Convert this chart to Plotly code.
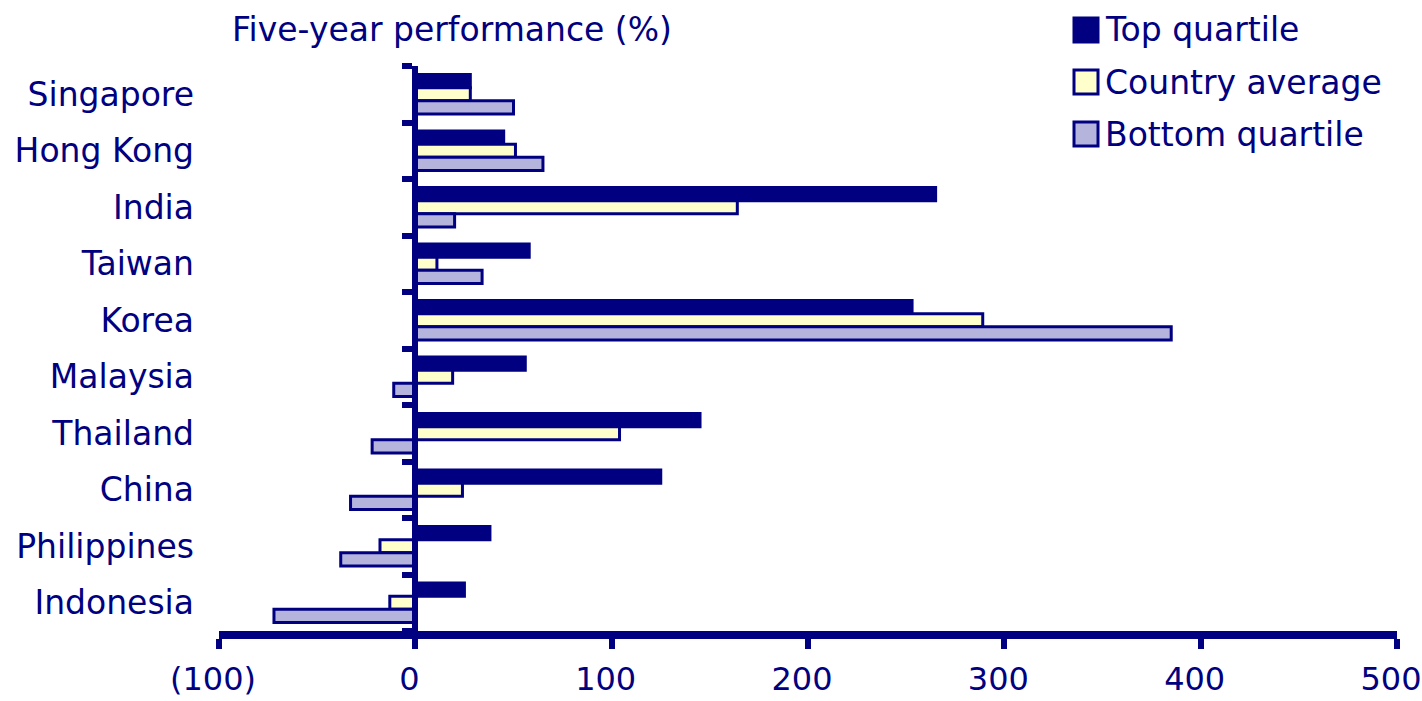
import plotly.graph_objects as go

# Five-year fund performance by market (%)
countries = ["Singapore", "Hong Kong", "India", "Taiwan", "Korea",
             "Malaysia", "Thailand", "China", "Philippines", "Indonesia"]
top_quartile = [28, 45, 265, 58, 253, 56, 145, 125, 38, 25]
country_average = [28, 51, 164, 11, 289, 19, 104, 24, -18, -13]
bottom_quartile = [50, 65, 20, 34, 385, -11, -22, -33, -38, -72]

series_names = ["Top quartile", "Country average", "Bottom quartile"]
x_ticks = [-100, 0, 100, 200, 300, 400, 500]
x_tick_text = ["(100)", "0", "100", "200", "300", "400", "500"]

NAVY = "#000080"
FILLS = [NAVY, "#FFFFCC", "#B4B4DC"]
FONT = "DejaVu Sans"
FS = 33

W, H = 1422, 701
ML, MR, MT, MB = 219, 25, 66, 70
PW, PH = W - ML - MR, H - MT - MB


def px_x(px):
    return (px - ML) / PW


def px_y(py):
    return 1 - (py - MT) / PH


fig = go.Figure()
for name, vals, fill in zip(series_names,
                            [top_quartile, country_average, bottom_quartile],
                            FILLS):
    fig.add_trace(go.Bar(
        name=name, y=countries, x=vals, orientation="h",
        marker=dict(color=fill, line=dict(color=NAVY, width=3)),
        showlegend=False,
    ))

x_min, x_max = x_ticks[0], x_ticks[-1]
n = len(countries)

fig.update_layout(
    width=W, height=H,
    margin=dict(l=ML, r=MR, t=MT, b=MB, autoexpand=False),
    paper_bgcolor="white", plot_bgcolor="white",
    barmode="group", bargap=0.3, bargroupgap=0,
    font=dict(family=FONT, size=FS, color=NAVY),
    xaxis=dict(
        automargin=False,
        range=[x_min, x_max], tickvals=x_ticks, ticktext=x_tick_text,
        showgrid=False, zeroline=False,
        showline=True, linecolor=NAVY, linewidth=8,
        ticks="outside", ticklen=10, tickwidth=6, tickcolor=NAVY,
        ticklabelstandoff=3, ticklabelshift=-6, ticklabeloverflow="allow",
        tickfont=dict(family=FONT, size=32, color=NAVY),
    ),
    yaxis=dict(
        automargin=False,
        type="category", categoryorder="array", categoryarray=countries,
        range=[n - 0.5, -0.5],
        showgrid=False, zeroline=False, showline=False, ticks="",
        ticklabelstandoff=24,
        tickfont=dict(family=FONT, size=FS, color=NAVY),
    ),
    # vertical zero line carrying the category boundary ticks
    yaxis2=dict(
        automargin=False,
        overlaying="y", anchor="free",
        position=(0 - x_min) / (x_max - x_min),
        range=[n - 0.5, -0.5],
        tickvals=[k - 0.5 for k in range(n + 1)],
        showticklabels=False, showgrid=False, zeroline=False,
        showline=True, linecolor=NAVY, linewidth=6,
        ticks="outside", ticklen=10, tickwidth=6, tickcolor=NAVY,
    ),
)

# keep the overlay axis alive with an empty trace
fig.add_trace(go.Scatter(x=[None], y=[None], yaxis="y2", showlegend=False,
                         hoverinfo="skip"))

fig.add_annotation(
    text="Five-year performance (%)", xref="paper", yref="paper",
    x=px_x(230), y=px_y(30), xanchor="left", yanchor="middle",
    showarrow=False, font=dict(family=FONT, size=FS, color=NAVY),
)

# legend: swatches and labels
legend_y = [30, 82, 134]
for name, fill, cy in zip(series_names, FILLS, legend_y):
    fig.add_shape(
        type="rect", xref="paper", yref="paper",
        x0=px_x(1074), x1=px_x(1098), y0=px_y(cy - 12), y1=px_y(cy + 12),
        fillcolor=fill, line=dict(color=NAVY, width=3),
    )
    fig.add_annotation(
        text=name, xref="paper", yref="paper",
        x=px_x(1103), y=px_y(cy), xanchor="left", yanchor="middle",
        showarrow=False, font=dict(family=FONT, size=FS, color=NAVY),
    )

fig.write_html("out.html")
